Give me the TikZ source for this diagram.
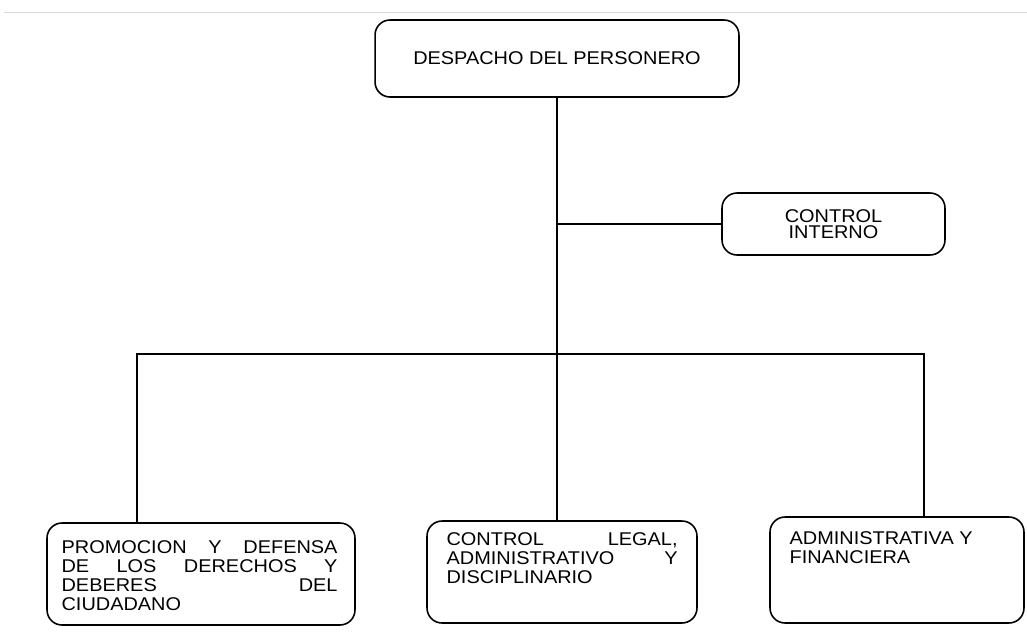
\documentclass[tikz,border=0pt]{standalone}
\usepackage{fontspec}
\setmainfont{Liberation Sans}[FakeStretch=1.08]
\usetikzlibrary{positioning}
\tikzset{
caja/.style={draw, rounded corners=0.3cm, line width=0.9pt, inner sep=0pt},
texto/.style={inner sep=0pt, anchor=north west, align=justify, font=\fontsize{10.5}{10.8}\selectfont},
linea/.style={line width=0.9pt}
}

\begin{document}
\begin{tikzpicture}[x=0.02cm, y=-0.02cm]
\useasboundingbox (0,0) rectangle (1027,637);
% scan border
\draw[black!15, line width=0.4pt] (4,12) -- (1027,12);

% boxes
\node[caja, minimum width=7.28cm, minimum height=1.54cm, font=\fontsize{10.5}{10.8}\selectfont] (despacho) at (557,58.5) {DESPACHO DEL PERSONERO};
\node[caja, minimum width=4.46cm, minimum height=1.24cm, align=center, font=\fontsize{10.5}{9.3}\selectfont] (interno) at (833.5,224) {CONTROL\\INTERNO};
\node[caja, minimum width=6.16cm, minimum height=2.04cm] (promocion) at (201,574) {};
\node[caja, minimum width=5.4cm, minimum height=2.04cm] (legal) at (562,572) {};
\node[caja, minimum width=5.08cm, minimum height=2.12cm] (financiera) at (897,570) {};

% texts
\node[texto, text width=5.52cm, below right=0.36cm and 0.3cm of promocion.north west] (promociontxt) {PROMOCION\hfill Y\hfill DEFENSA\\DE\hfill LOS\hfill DERECHOS\hfill Y\\DEBERES\hfill DEL\\CIUDADANO};
\node[texto, text width=4.62cm, below right=0.24cm and 0.4cm of legal.north west] (legaltxt) {CONTROL\hfill LEGAL,\\ADMINISTRATIVO\hfill Y\\DISCIPLINARIO};
\node[texto, align=left, below right=0.3cm and 0.4cm of financiera.north west] (financieratxt) {ADMINISTRATIVA Y\\FINANCIERA};

% lines
\coordinate (busL) at (137,354);
\coordinate (busR) at (924,354);
\draw[linea] (despacho.south) -- (despacho.south |- legal.north);
\draw[linea] (despacho.south |- interno.west) -- (interno.west);
\draw[linea] (promocion.north -| busL) -- (busL) -- (busR) -- (financiera.north -| busR);
\end{tikzpicture}
\end{document}
